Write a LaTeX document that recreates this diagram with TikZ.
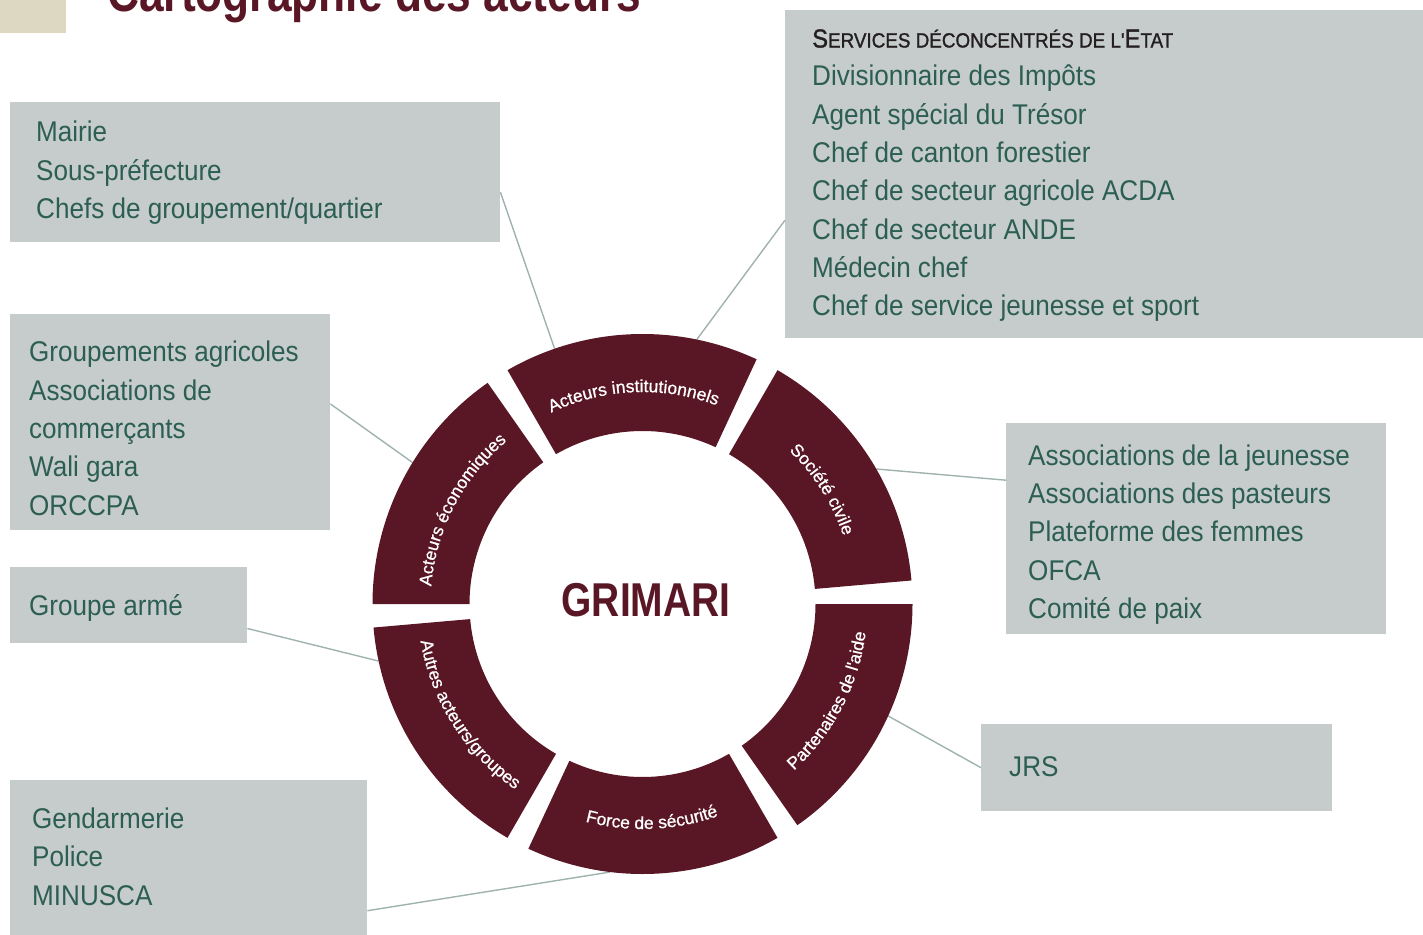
\documentclass[tikz,border=0pt]{standalone}
\usepackage{fontspec}
\usepackage{xcolor}
\usepackage{tikz}
\usetikzlibrary{calc,decorations.text}

\newfontfamily\boxface{Liberation Sans}[FakeStretch=0.915]
\newfontfamily\headface{Liberation Sans}[FakeStretch=0.915, FakeBold=1.2]
\newfontfamily\hubface{Liberation Sans}[FakeStretch=0.82]
\newfontfamily\ringface{Liberation Sans}[FakeBold=0.8]

\newcommand{\boxfont}{\boxface\fontsize{28.5}{38.3}\selectfont}
\newcommand{\ringfont}{\ringface\fontsize{17.5}{21}\selectfont\color{white}}
\newcommand{\capbig}[1]{{\headface\fontsize{26}{38.3}\selectfont #1}}
\newcommand{\capsmall}[1]{{\headface\fontsize{20.6}{38.3}\selectfont #1}}

\definecolor{wine}{RGB}{89,23,38}
\definecolor{panelgrey}{RGB}{198,204,203}
\definecolor{leafgreen}{RGB}{44,94,82}
\definecolor{inkblack}{RGB}{35,31,32}
\definecolor{linkgrey}{RGB}{160,178,176}
\definecolor{sand}{RGB}{221,216,194}

\begin{document}
\begin{tikzpicture}[x=1pt, y=1pt,
    panel/.style={rectangle, fill=panelgrey, inner sep=0pt, anchor=north west},
    listing/.style={anchor=north west, inner sep=0pt, align=left, text=leafgreen, font=\boxfont},
    link/.style={linkgrey, line width=1.4pt},
    ring/.style={fill=wine}]
    \useasboundingbox (0,0) rectangle (1423,-934);
    \clip (0,0) rectangle (1423,-934);

    % Title strip
    \fill[sand] (0,0) rectangle (66,-33);
    \node[anchor=base west, inner sep=0pt, text=wine, font=\hubface\bfseries\fontsize{54}{60}\selectfont] (title) at (107,-12) {Cartographie des acteurs};

    % Grey panels
    \node[panel, minimum width=490, minimum height=140] (mairie) at (10,-102) {};
    \node[panel, minimum width=650, minimum height=328] (services) at (785,-10) {};
    \node[panel, minimum width=320, minimum height=215.5] (economie) at (10,-314) {};
    \node[panel, minimum width=237, minimum height=76] (arme) at (10,-567) {};
    \node[panel, minimum width=357, minimum height=165] (securite) at (10,-780) {};
    \node[panel, minimum width=380, minimum height=211] (civile) at (1006,-423) {};
    \node[panel, minimum width=351, minimum height=87] (aide) at (981,-724) {};

    % Panel texts
    \node[listing] (mairie-txt) at (36,-114.9) {\strut Mairie\\Sous-préfecture\\Chefs de groupement/quartier};
    \node[listing] (services-txt) at (812,-20.5) {\strut\textcolor{inkblack}{\capbig{S}\capsmall{ERVICES DÉCONCENTRÉS DE L'}\capbig{E}\capsmall{TAT}}\\
        Divisionnaire des Impôts\\Agent spécial du Trésor\\Chef de canton forestier\\Chef de secteur agricole ACDA\\
        Chef de secteur ANDE\\Médecin chef\\Chef de service jeunesse et sport};
    \node[listing] (economie-txt) at (29,-334.9) {\strut Groupements agricoles\\Associations de\\commerçants\\Wali gara\\ORCCPA};
    \node[listing] (arme-txt) at (29,-588.2) {\strut Groupe armé};
    \node[listing] (securite-txt) at (32,-801.5) {\strut Gendarmerie\\Police\\MINUSCA};
    \node[listing] (civile-txt) at (1028,-438.2) {\strut Associations de la jeunesse\\Associations des pasteurs\\Plateforme des femmes\\OFCA\\Comité de paix};
    \node[listing] (aide-txt) at (1009,-749.9) {\strut JRS};

    % Ring centre and pins on the outer rim
    \coordinate (hub) at (642.5,-604);
    \coordinate (pin-mairie) at ($(hub)+(109:270)$);
    \coordinate (pin-services) at ($(hub)+(78.4:270)$);
    \coordinate (pin-economie) at ($(hub)+(148.4:270)$);
    \coordinate (pin-civile) at ($(hub)+(30:270)$);
    \coordinate (pin-arme) at ($(hub)+(192.2:270)$);
    \coordinate (pin-aide) at ($(hub)+(-24.5:270)$);
    \coordinate (pin-securite) at ($(hub)+(-96.9:270)$);

    % Links
    \draw[link] ([yshift=-20pt]mairie.east) -- (pin-mairie);
    \draw[link] ([yshift=-46pt]services.west) -- (pin-services);
    \draw[link] ([yshift=18pt]economie.east) -- (pin-economie);
    \draw[link] ([yshift=48.5pt]civile.west) -- (pin-civile);
    \draw[link] ([yshift=-23.3pt]arme.east) -- (pin-arme);
    \draw[link] (aide.west) -- (pin-aide);
    \draw[link] ([yshift=-48pt]securite.east) -- (pin-securite);

    % Ring segments
    \foreach \a in {5,65,125,185,245,305} {
        \fill[ring] ($(hub)+(\a:270)$) arc[start angle=\a, end angle=\a+55, radius=270]
            -- ($(hub)+(\a+55:173)$) arc[start angle=\a+55, end angle=\a, radius=173] -- cycle;
    }

    % Segment labels, tops outward
    \path[decorate, decoration={text along path, text align=center, text={|\ringfont|Société civile}}]
        ($(hub)+(60:212)$) arc[start angle=60, end angle=5, radius=212];
    \path[decorate, decoration={text along path, text align=center, text={|\ringfont|Acteurs institutionnels}}]
        ($(hub)+(120:212)$) arc[start angle=120, end angle=65, radius=212];
    \path[decorate, decoration={text along path, text align=center, text={|\ringfont|Acteurs économiques}}]
        ($(hub)+(180:212)$) arc[start angle=180, end angle=125, radius=212];

    % Segment labels, tops inward
    \path[decorate, decoration={text along path, text align=center, text={|\ringfont|Autres acteurs/groupes}}]
        ($(hub)+(185:225)$) arc[start angle=185, end angle=240, radius=225];
    \path[decorate, decoration={text along path, text align=center, text={|\ringfont|Force de sécurité}}]
        ($(hub)+(245:225)$) arc[start angle=245, end angle=300, radius=225];
    \path[decorate, decoration={text along path, text align=center, text={|\ringfont|Partenaires de l'aide}}]
        ($(hub)+(305:225)$) arc[start angle=305, end angle=360, radius=225];

    % Centre label
    \node[anchor=base, inner sep=0pt, text=wine, font=\hubface\bfseries\fontsize{47.5}{50}\selectfont] (grimari) at (646,-616.4) {GRIMARI};
\end{tikzpicture}
\end{document}
